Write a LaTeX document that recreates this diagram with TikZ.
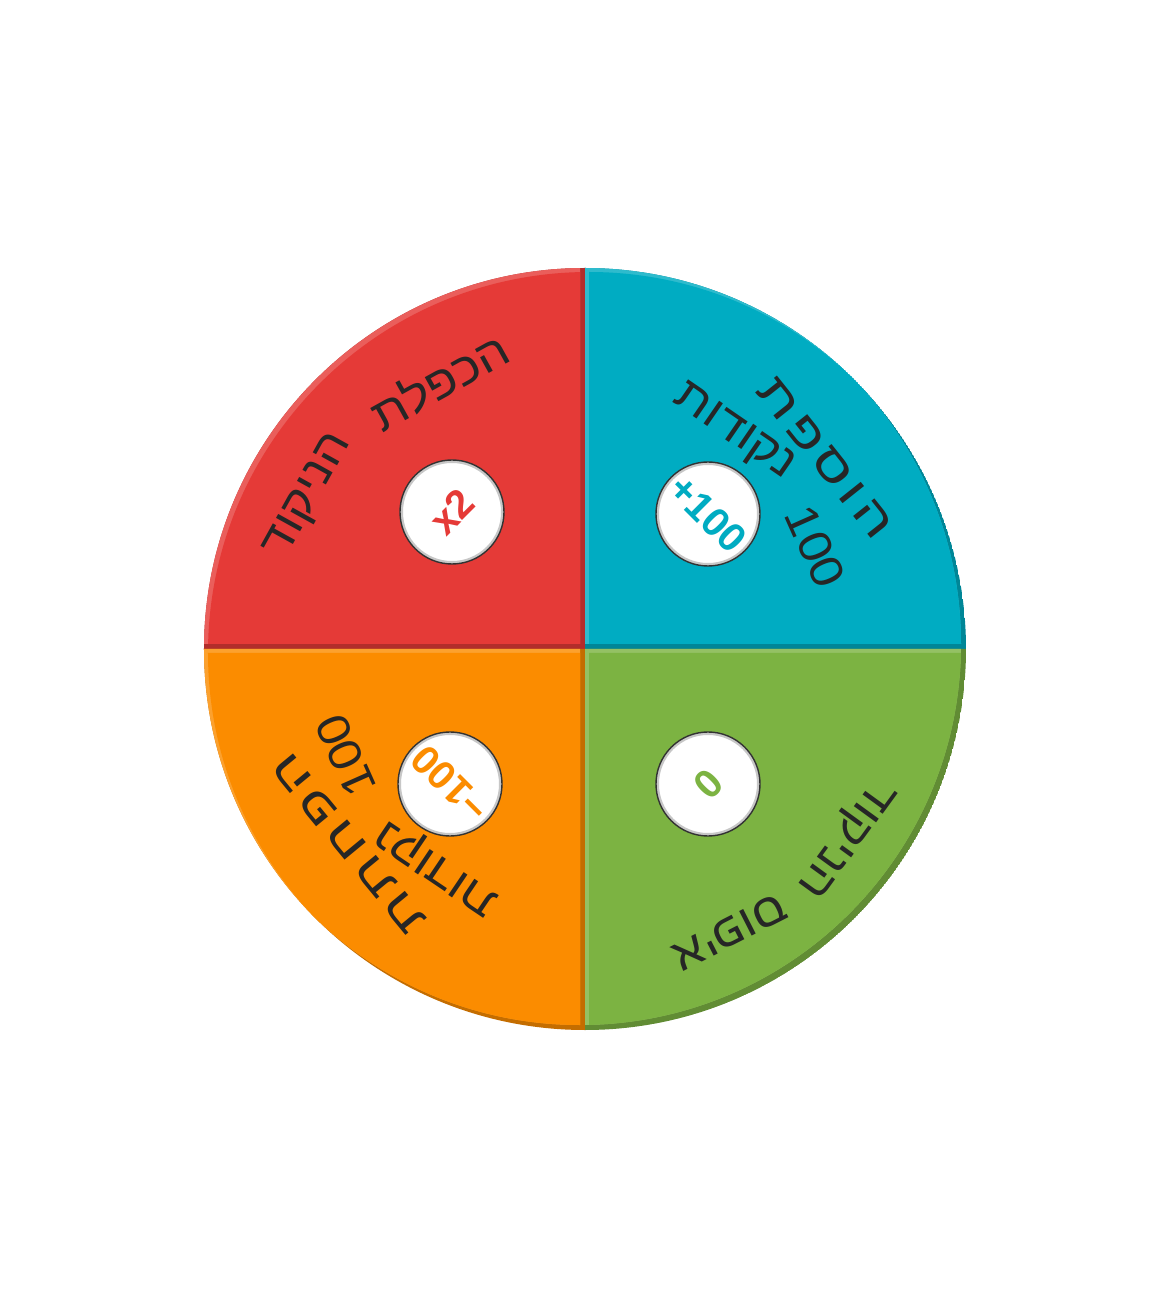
\documentclass[tikz,border=0pt]{standalone}
\usepackage{fontspec}
\setmainfont{Liberation Sans}
\newfontfamily\hebfont[Script=Hebrew, FakeStretch=1.1]{Liberation Sans}
\newfontfamily\hebwide[Script=Hebrew, FakeStretch=1.3, LetterSpace=12]{Liberation Sans}
\TeXXeTstate=1
\definecolor{wheelred}{RGB}{229,58,55}
\definecolor{wheelblue}{RGB}{0,172,194}
\definecolor{wheelorange}{RGB}{251,140,0}
\definecolor{wheelgreen}{RGB}{124,179,66}

\begin{document}
\begin{tikzpicture}[x=1pt, y=1pt,
    heb/.style={font=\hebfont\fontsize{46}{46}\selectfont, text=black!85, inner sep=0pt},
    hebspread/.style={heb, font=\hebwide\fontsize{46}{46}\selectfont},
    disc/.style={circle, fill=white, draw=black!80, line width=1.4pt, minimum size=104pt, inner sep=0pt,
        path picture={\draw[black!22, line width=6pt] (path picture bounding box.center) circle[radius=52pt];}},
    score/.style={font=\fontsize{40}{40}\selectfont\bfseries}]
    \fill[white] (-585, -651) rectangle (585, 649);
    \useasboundingbox (-585, -651) rectangle (585, 649);
    \foreach \a/\c in {90/wheelred, 0/wheelblue, 180/wheelorange, 270/wheelgreen} {
        \begin{scope}
            \clip (0, 0) -- (\a:381) arc[start angle=\a, delta angle=90, radius=381] -- cycle;
            \fill[\c!78!black] (0, 0) -- (\a:381) arc[start angle=\a, delta angle=90, radius=381] -- cycle;
            \fill[\c!82!white, shift={(-5, 5)}] (0, 0) -- (\a:381) arc[start angle=\a, delta angle=90, radius=381] -- cycle;
            \clip[shift={(-5, 5)}] (0, 0) -- (\a:381) arc[start angle=\a, delta angle=90, radius=381] -- cycle;
            \fill[\c, shift={(4, -4)}] (0, 0) -- (\a:381) arc[start angle=\a, delta angle=90, radius=381] -- cycle;
        \end{scope}
    }
    \node[disc, score, text=wheelred, rotate=45] (disc-red) at (-133, 137) {x2};
    \node[disc, score, text=wheelblue, rotate=-45] (disc-blue) at (123, 135) {+100};
    \node[disc, score, text=wheelorange, rotate=135] (disc-orange) at (-135, -135) {−100};
    \node[disc, score, text=wheelgreen, rotate=-135] (disc-green) at (123, -135) {0};
    \node[heb, rotate=29] (double) at (118.5:305) {\beginR הכפלת\endR};
    \node[heb, rotate=61] (score-red) at (151:315) {\beginR הניקוד\endR};
    \node[hebspread, rotate=-51.5] (add) at (38.5:306) {\beginR הוספת\endR};
    \node[heb, rotate=-34.5] (points-blue) at (55.5:262) {\beginR נקודות\endR};
    \node[heb, rotate=-66] (hundred-blue) at (24:252) {100};
    \node[hebspread, rotate=129.5] (subtract) at (219.5:306) {\beginR הפחתת\endR};
    \node[heb, rotate=114] (hundred-orange) at (204:262) {100};
    \node[heb, rotate=146] (points-orange) at (236:262) {\beginR נקודות\endR};
    \node[heb, rotate=-153] (reset) at (-63:318) {\beginR איפוס\endR};
    \node[heb, rotate=-126] (score-green) at (-36:320) {\beginR הניקוד\endR};
\end{tikzpicture}
\end{document}
